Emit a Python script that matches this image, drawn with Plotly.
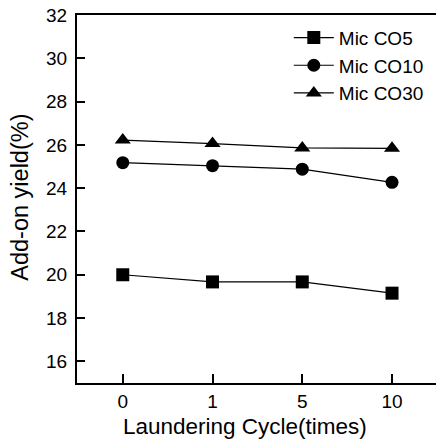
import plotly.graph_objects as go

categories = ["0", "1", "5", "10"]
co5 = [20.0, 19.67, 19.67, 19.15]
co10 = [25.18, 25.04, 24.88, 24.27]
co30 = [26.22, 26.06, 25.86, 25.84]
y_ticks = [16, 18, 20, 22, 24, 26, 28, 30, 32]

series = [
    ("Mic CO5", co5, "square"),
    ("Mic CO10", co10, "circle"),
    ("Mic CO30", co30, "triangle-up"),
]

fig = go.Figure()
xpos = list(range(len(categories)))
for name, vals, sym in series:
    fig.add_trace(go.Scatter(
        x=xpos, y=vals, name=name, mode="lines+markers",
        line=dict(color="black", width=1.2),
        marker=dict(symbol=sym, size=13 if sym != "triangle-up" else 14, color="black"),
    ))

font = "Liberation Sans, Arial, sans-serif"
fig.update_layout(
    width=436, height=440,
    margin=dict(l=77, r=0, t=15, b=57),
    paper_bgcolor="white", plot_bgcolor="white",
    font=dict(family=font, color="black", size=19),
    showlegend=True,
    legend=dict(x=0.59, y=0.99, xanchor="left", yanchor="top",
                bgcolor="rgba(0,0,0,0)", font=dict(size=19), itemwidth=40,
                tracegroupgap=0),
    xaxis=dict(
        range=[-0.51, 3.49], tickmode="array", tickvals=xpos, ticktext=categories,
        showline=True, linecolor="black", linewidth=2, mirror=True,
        ticks="inside", ticklen=9, tickwidth=2, tickcolor="black",
        showgrid=False, zeroline=False, tickfont=dict(size=19),
    ),
    yaxis=dict(
        range=[15, 32], tickvals=y_ticks,
        showline=True, linecolor="black", linewidth=2,
        ticks="inside", ticklen=8, tickwidth=2, tickcolor="black",
        showgrid=False, zeroline=False, tickfont=dict(size=19),
        ticklabelstandoff=4,
    ),
    annotations=[
        dict(text="Laundering Cycle(times)", xref="paper", yref="paper",
             x=0.468, y=-0.118, xanchor="center", yanchor="middle",
             showarrow=False, font=dict(size=22.5)),
        dict(text="Add-on yield(%)", xref="paper", yref="paper",
             x=-0.159, y=0.506, xanchor="center", yanchor="middle",
             textangle=-90, showarrow=False, font=dict(size=23.5)),
    ],
)

fig.write_html("out.html")
